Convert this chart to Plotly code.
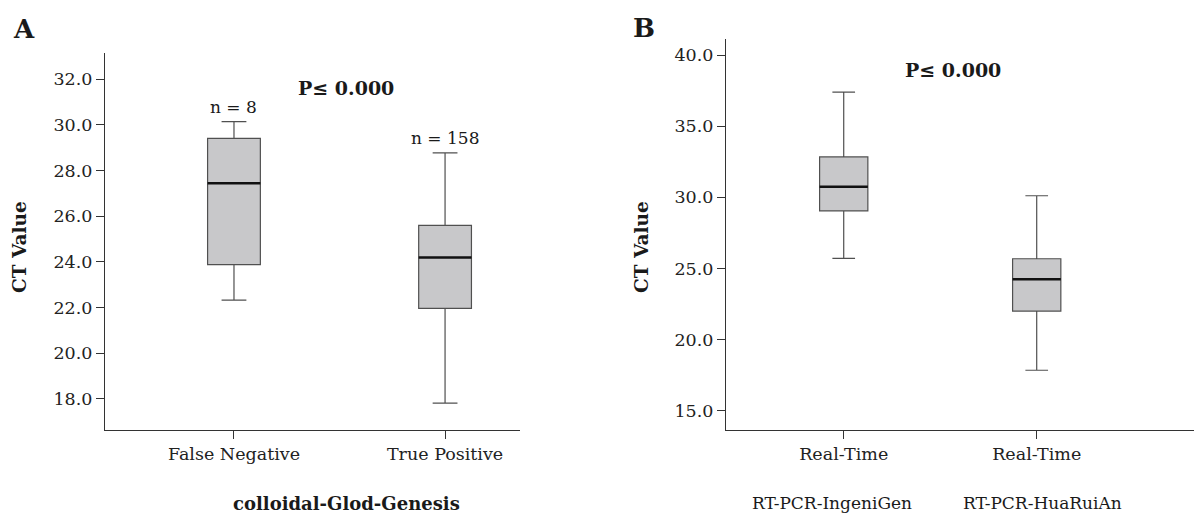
import plotly.graph_objects as go

# Panel A data
a_cats = ["False Negative", "True Positive"]
a_low = [22.32, 17.82]
a_q1 = [23.88, 21.96]
a_med = [27.44, 24.19]
a_q3 = [29.40, 25.60]
a_high = [30.14, 28.77]
a_n = ["n = 8", "n = 158"]
a_ticks = [18.0, 20.0, 22.0, 24.0, 26.0, 28.0, 30.0, 32.0]

# Panel B data
b_cats = ["Real-Time", "Real-Time"]
b_sub = ["RT-PCR-IngeniGen", "RT-PCR-HuaRuiAn"]
b_low = [25.70, 17.84]
b_q1 = [29.04, 22.00]
b_med = [30.75, 24.23]
b_q3 = [32.84, 25.68]
b_high = [37.39, 30.11]
b_ticks = [15.0, 20.0, 25.0, 30.0, 35.0, 40.0]

W, H = 1194, 515
FONT = "DejaVu Serif"
BOX_FILL = "#c8c8ca"
BOX_LINE = "#505050"
BW = 0.25

fig = go.Figure()

def add_panel(xa, ya, low, q1, med, q3, high):
    pos = list(range(len(med)))
    fig.add_trace(go.Box(
        x=pos, q1=q1, median=med, q3=q3, lowerfence=low, upperfence=high,
        width=BW, whiskerwidth=0.47, fillcolor=BOX_FILL,
        line=dict(color=BOX_LINE, width=1.2), boxpoints=False,
        xaxis=xa, yaxis=ya, showlegend=False, hoverinfo="skip"))
    for i, m in enumerate(med):
        fig.add_trace(go.Scatter(
            x=[i - BW / 2, i + BW / 2], y=[m, m], mode="lines",
            line=dict(color="#111111", width=2.5),
            xaxis=xa, yaxis=ya, showlegend=False, hoverinfo="skip"))

add_panel("x", "y", a_low, a_q1, a_med, a_q3, a_high)
add_panel("x2", "y2", b_low, b_q1, b_med, b_q3, b_high)

axis_common = dict(showline=True, linecolor="#333333", linewidth=1.2,
                   ticks="outside", tickcolor="#333333", showgrid=False,
                   zeroline=False, tickfont=dict(family=FONT, size=17.5, color="#222222"))

fig.update_layout(
    width=W, height=H, autosize=False,
    margin=dict(l=0, r=0, t=0, b=0),
    paper_bgcolor="white", plot_bgcolor="white",
    xaxis=dict(domain=[105 / W, 520 / W], range=[-0.611, 1.355],
               tickvals=[0, 1], ticktext=a_cats, ticklen=8, anchor="y", **axis_common),
    yaxis=dict(domain=[1 - 430 / H, 1 - 53 / H], range=[16.64, 33.14],
               tickvals=a_ticks, ticktext=[f"{v:.1f}" for v in a_ticks],
               ticklen=8, anchor="x", **axis_common),
    xaxis2=dict(domain=[726 / W, 1.0], range=[-0.61, 1.815],
                tickvals=[0, 1], ticktext=b_cats, ticklen=8, anchor="y2", **axis_common),
    yaxis2=dict(domain=[1 - 430 / H, 1 - 39 / H], range=[13.64, 41.13],
                tickvals=b_ticks, ticktext=[f"{v:.1f}" for v in b_ticks],
                ticklen=8, anchor="x2", **axis_common),
)

def px(x, y, text, size=15, bold=False, angle=0, xanchor="center"):
    t = f"<b>{text}</b>" if bold else text
    fig.add_annotation(x=x / W, y=1 - y / H, xref="paper", yref="paper", text=t,
                       showarrow=False, textangle=angle, xanchor=xanchor, yanchor="middle",
                       font=dict(family=FONT, size=size, color="#1a1a1a"))

# Panel labels
px(24, 29, "A", size=26, bold=True)
px(644, 28, "B", size=26, bold=True)
# y titles
px(20, 247, "CT Value", size=18.5, bold=True, angle=-90)
px(642, 247, "CT Value", size=18.5, bold=True, angle=-90)
# x titles
px(346, 503, "colloidal-Glod-Genesis", size=18, bold=True)
px(832, 503, b_sub[0], size=17)
px(1042, 503, b_sub[1], size=17)
# p values
px(346, 88, "P≤ 0.000", size=19, bold=True)
px(953, 70, "P≤ 0.000", size=19, bold=True)
# n labels above whiskers
for i, (t, h) in enumerate(zip(a_n, a_high)):
    fig.add_annotation(x=i, y=h, xref="x", yref="y", text=t, showarrow=False,
                       yanchor="bottom", yshift=3,
                       font=dict(family=FONT, size=17, color="#1a1a1a"))

fig.write_html("out.html", config={"displayModeBar": False},
               post_script="document.body.style.margin='0px';")
